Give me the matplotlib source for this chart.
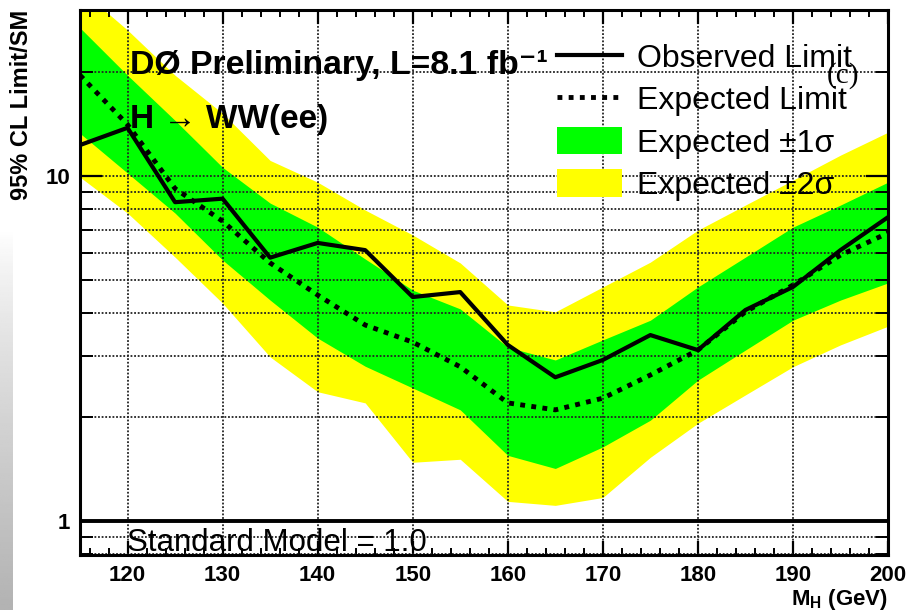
import numpy as np
import matplotlib
matplotlib.use("Agg")
import matplotlib.pyplot as plt
from matplotlib.lines import Line2D
from matplotlib.patches import Patch
from matplotlib.ticker import LogLocator, FixedLocator, MultipleLocator, NullFormatter, FixedFormatter

plt.rcParams['font.family'] = ['Liberation Sans', 'DejaVu Sans']
plt.rcParams['mathtext.fontset'] = 'custom'
plt.rcParams['mathtext.rm'] = 'Liberation Sans'
plt.rcParams['mathtext.bf'] = 'Liberation Sans:bold'
plt.rcParams['mathtext.it'] = 'Liberation Sans:italic'

# ---- data ----
mass = [115, 120, 125, 130, 135, 140, 145, 150, 155, 160, 165, 170, 175, 180, 185, 190, 195, 200]
observed = [12.3, 13.8, 8.4, 8.6, 5.8, 6.4, 6.1, 4.46, 4.61, 3.24, 2.61, 2.93, 3.46, 3.13, 4.09, 4.77, 6.1, 7.6]
expected = [19.6, 14.1, 9.2, 7.4, 5.6, 4.52, 3.70, 3.30, 2.80, 2.20, 2.10, 2.27, 2.65, 3.13, 4.04, 4.83, 5.9, 6.84]
plus2 = [34.8, 26.5, 19.6, 15.2, 11.1, 9.6, 7.97, 6.75, 5.6, 4.23, 4.04, 4.77, 5.63, 6.97, 8.24, 9.73, 11.5, 13.4]
plus1 = [26.9, 19.6, 14.5, 10.6, 8.35, 7.11, 5.75, 4.67, 4.12, 3.19, 2.93, 3.35, 3.82, 4.77, 5.82, 7.11, 8.24, 9.6]
minus1 = [13.3, 10.2, 7.81, 5.71, 4.37, 3.39, 2.81, 2.43, 2.10, 1.55, 1.42, 1.64, 1.96, 2.56, 3.13, 3.82, 4.37, 4.90]
minus2 = [9.93, 7.81, 5.82, 4.28, 2.99, 2.37, 2.20, 1.48, 1.51, 1.14, 1.11, 1.17, 1.53, 1.92, 2.32, 2.80, 3.24, 3.67]
sm_value = 1.0
x_ticks = [120, 130, 140, 150, 160, 170, 180, 190, 200]
y_ticks = [1, 10]
y_ticklabels = ["1", "10"]

fig = plt.figure(figsize=(9.12, 6.10), dpi=100)
W, H = 912, 610
ax = fig.add_axes([80 / W, 1 - 555 / H, 808 / W, 545 / H])

# left grey strip (slide background)
sax = fig.add_axes([0, 0, 13 / W, 1])
sax.imshow(1 - 0.3 * np.clip((np.linspace(0, 1, 256) - 0.38) / 0.62, 0, 1).reshape(-1, 1) ** 0.8,
           cmap='gray', vmin=0, vmax=1, aspect='auto', origin='upper')
sax.axis('off')

ax.fill_between(mass, minus2, plus2, color='#ffff00', lw=0, zorder=1)
ax.fill_between(mass, minus1, plus1, color='#00ff00', lw=0, zorder=1.1)
ax.plot(mass, expected, color='black', lw=3.5, linestyle=(0, (1, 1.3)), zorder=3)
ax.plot(mass, observed, color='black', lw=3, zorder=3.1)
ax.axhline(sm_value, color='black', lw=2.8, zorder=3)

ax.set_yscale('log')
ax.set_xlim(115, 200)
ax.set_ylim(0.797, 30.3)

ax.xaxis.set_major_locator(FixedLocator(x_ticks))
ax.xaxis.set_minor_locator(MultipleLocator(2))
ax.yaxis.set_major_locator(FixedLocator(y_ticks))
ax.yaxis.set_major_formatter(FixedFormatter(y_ticklabels))
ax.yaxis.set_minor_locator(LogLocator(base=10, subs=np.arange(2, 10)))
ax.yaxis.set_minor_formatter(NullFormatter())

ax.grid(True, which='major', axis='x', color='#222222', lw=1.3, linestyle=(0, (1, 1)))
ax.grid(True, which='both', axis='y', color='#222222', lw=1.3, linestyle=(0, (1, 1)))
ax.set_axisbelow(False)
for gl in ax.get_xgridlines() + ax.get_ygridlines():
    gl.set_zorder(2)

ax.tick_params(axis='x', which='major', direction='in', length=10, width=1.6, top=True, bottom=True,
               labelsize=16, pad=7)
ax.tick_params(axis='x', which='minor', direction='in', length=5, width=1.4, top=True, bottom=True)
ax.tick_params(axis='y', which='major', direction='in', length=16, width=1.6, left=True, right=True,
               labelsize=16, pad=7)
ax.tick_params(axis='y', which='minor', direction='in', length=9, width=1.4, left=True, right=True)
for lab in ax.get_xticklabels() + ax.get_yticklabels():
    lab.set_fontweight('bold')
for s in ax.spines.values():
    s.set_linewidth(2.2)
    s.set_zorder(5)

fig.text(22 / W, 1 - 10 / H, '95% CL Limit/SM', rotation=90, fontsize=17, fontweight='bold',
         ha='center', va='top')
ax.set_xlabel(r'M$_{\mathbf{H}}$ (GeV)', fontsize=16, fontweight='bold', loc='right')
ax.xaxis.set_label_coords(1.0, -0.058)

ax.text(0.0619, 0.8826, 'DØ Preliminary, L=8.1 fb⁻¹', transform=ax.transAxes,
        fontsize=24.3, fontweight='bold', ha='left', va='baseline', zorder=6)
ax.text(0.0619, 0.7835, 'H → WW(ee)', transform=ax.transAxes,
        fontsize=24, fontweight='bold', ha='left', va='baseline', zorder=6)
ax.text(0.944, 0.879, '(c)', transform=ax.transAxes, fontsize=21, family='Liberation Serif',
        ha='center', va='center', zorder=6)
ax.text(0.058, 0.007, 'Standard Model = 1.0', transform=ax.transAxes, fontsize=22.5,
        ha='left', va='baseline', zorder=6)

handles = [Line2D([], [], color='black', lw=3),
           Line2D([], [], color='black', lw=3.5, linestyle=(0, (1, 1.3))),
           Patch(facecolor='#00ff00', edgecolor='none'),
           Patch(facecolor='#ffff00', edgecolor='none')]
labels = ['Observed Limit', 'Expected Limit', 'Expected ±1σ', 'Expected ±2σ']
leg = ax.legend(handles, labels, loc='upper left', bbox_to_anchor=(0.5903, 0.941),
                frameon=False, fontsize=23, handlelength=2.05, handleheight=0.95,
                handletextpad=0.45, labelspacing=0.33, borderpad=0, borderaxespad=0)
leg.set_zorder(6)

fig.savefig('out.png', dpi=100)
